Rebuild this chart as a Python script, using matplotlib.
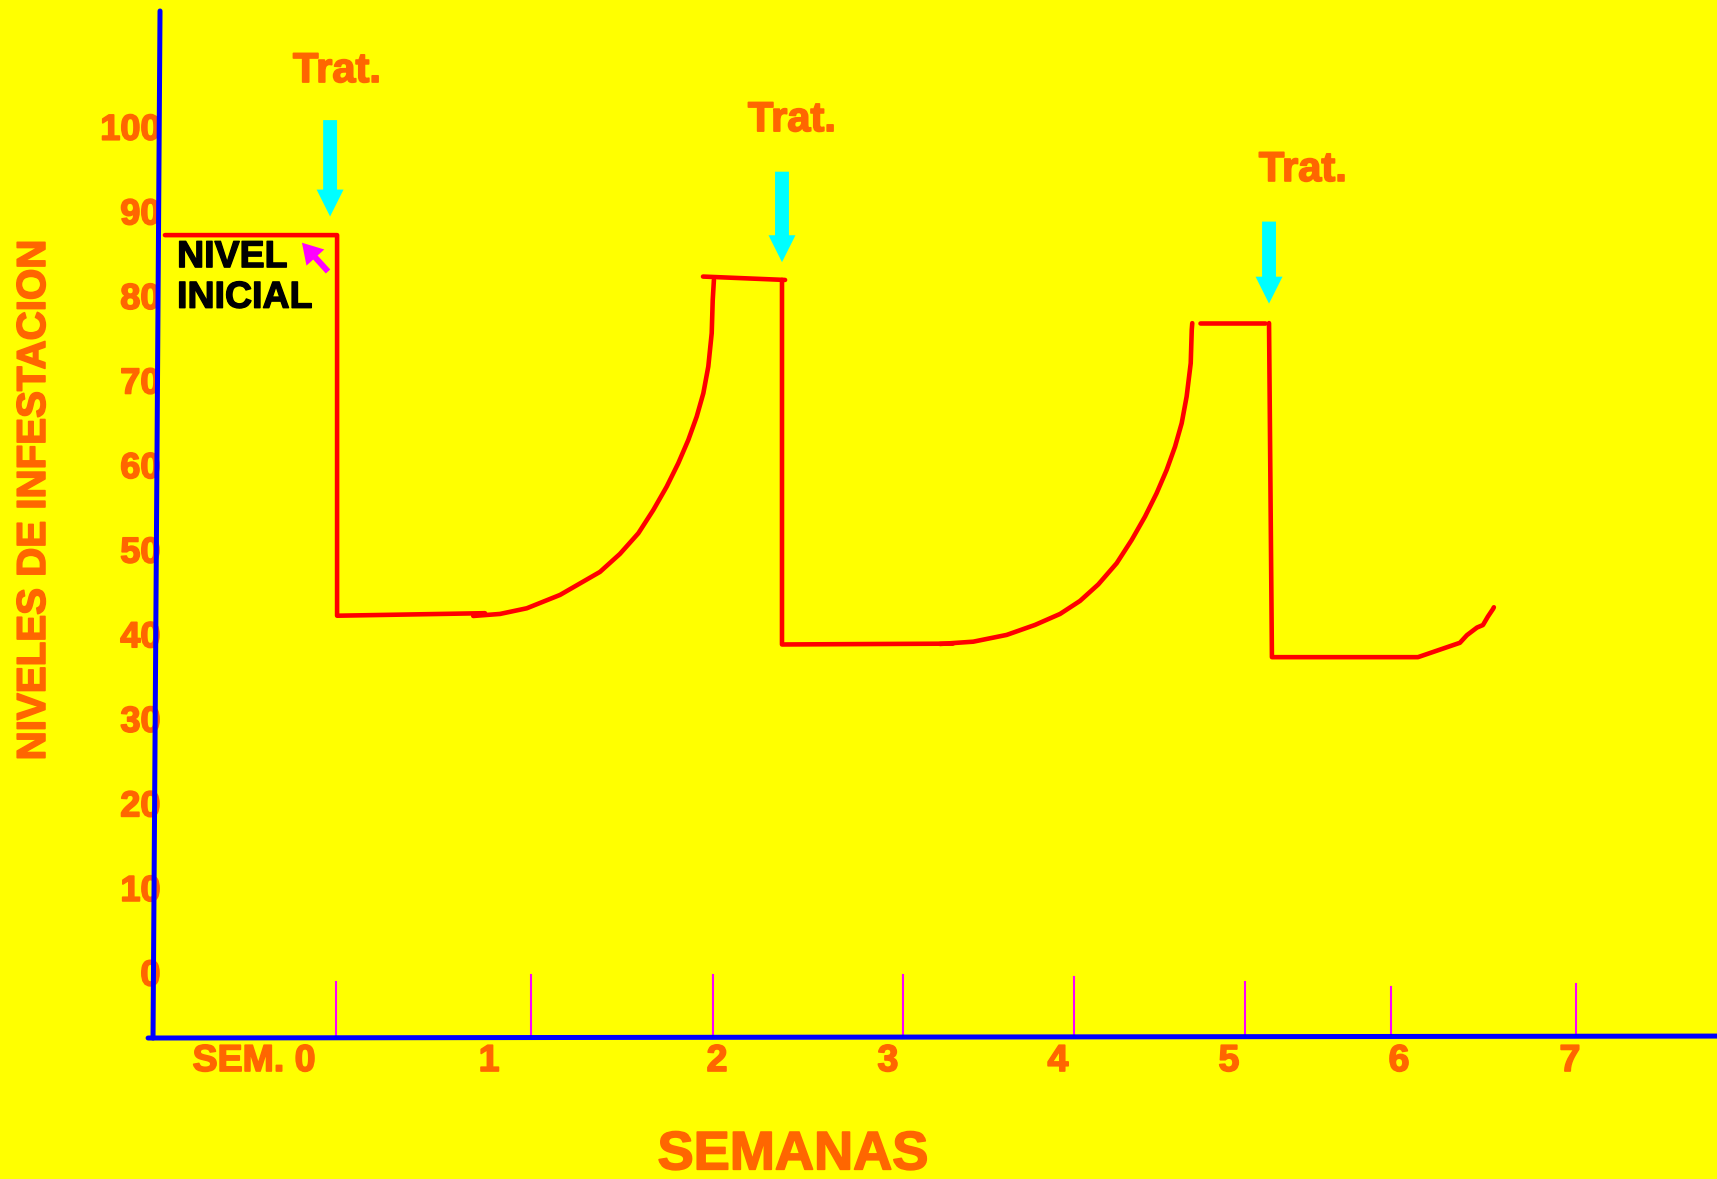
import matplotlib
matplotlib.use("Agg")
import matplotlib.pyplot as plt
import matplotlib.patheffects as pe

plt.rcParams['font.family'] = ['Liberation Sans', 'DejaVu Sans']

# ---------------- data (weeks on x, infestation level on y) ----------------
y_ticks = [0, 10, 20, 30, 40, 50, 60, 70, 80, 90, 100]
x_labels = ["SEM. 0", "1", "2", "3", "4", "5", "6", "7"]
x_label_pos = [-0.714, 0.664, 2.0, 3.002, 3.999, 5.001, 5.998, 7.0]
x_tick_marks = [-0.233, 0.910, 1.977, 3.090, 4.093, 5.095, 5.951, 7.035]
x_tick_tops = [-0.71, 0.12, 0.12, 0.12, -0.12, -0.71, -1.30, -0.95]

initial_x = [-1.236, -0.227, -0.227, 0.640]
initial_y = [87.6, 87.6, 42.6, 42.9]

growth1_x = [0.571, 0.728, 0.885, 1.080, 1.314, 1.431, 1.539, 1.627, 1.705,
             1.773, 1.832, 1.881, 1.920, 1.949, 1.969, 1.975, 1.982]
growth1_y = [42.57, 42.81, 43.48, 45.06, 47.78, 49.91, 52.35, 55.11, 57.86,
             60.63, 63.39, 66.14, 68.91, 72.06, 76.01, 79.94, 82.31]

plateau2_x = [1.918, 2.399]
plateau2_y = [82.7, 82.3]

drop2_x = [2.381, 2.381, 3.383]
drop2_y = [82.3, 39.2, 39.3]

growth2_x = [3.307, 3.502, 3.698, 3.864, 4.011, 4.128, 4.235, 4.343, 4.431,
             4.509, 4.577, 4.636, 4.685, 4.724, 4.753, 4.777, 4.783, 4.786]
growth2_y = [39.26, 39.53, 40.33, 41.51, 42.81, 44.35, 46.30, 48.81, 51.56,
             54.32, 57.08, 59.84, 62.59, 65.36, 68.51, 72.46, 76.40, 77.19]

plateau3_x = [4.831, 5.212]
plateau3_y = [77.2, 77.2]

drop3_x = [5.236, 5.253, 6.109, 6.355, 6.396, 6.455, 6.490, 6.519, 6.549, 6.554]
drop3_y = [77.2, 37.7, 37.7, 39.4, 40.3, 41.2, 41.5, 42.5, 43.4, 43.6]

treat_x = [-0.268, 2.381, 5.236]
treat_arrow_top = [101.2, 95.1, 89.2]
treat_arrow_tip = [89.8, 84.4, 79.5]
treat_label_x = [-0.227, 2.440, 5.435]
treat_label_y = [107.0, 101.2, 95.3]

# ---------------- figure ----------------
YELLOW = "#FFFF00"
ORANGE = "#FF6600"
RED = "#FF0000"
BLUE = "#0000FF"
MAGENTA = "#FF00FF"
CYAN = "#00FFFF"

bold_orange = [pe.withStroke(linewidth=1.2, foreground=ORANGE)]
bold_black = [pe.withStroke(linewidth=1.0, foreground="black")]

fig = plt.figure(figsize=(17.17, 11.79), dpi=100, facecolor=YELLOW)
ax = fig.add_axes([0, 0, 1, 1], facecolor=YELLOW)
ax.set_xlim(-2.203, 7.862)
ax.set_ylim(-24.0, 115.4)
ax.axis("off")

# axes drawn by hand (hand-drawn look)
ax.plot([-1.265, -1.306], [114.1, -7.33], color=BLUE, lw=3.6,
        solid_capstyle="round", zorder=5)
ax.plot([-1.335, 7.862], [-7.33, -7.1], color=BLUE, lw=3.6,
        solid_capstyle="round", zorder=5)

# magenta week marks
for xm, yt in zip(x_tick_marks, x_tick_tops):
    ax.plot([xm, xm], [yt, -7.2], color=MAGENTA, lw=1.5, zorder=3)

# y tick labels
for v in y_ticks:
    ax.text(-1.262, v, str(v), ha="right", va="center", color=ORANGE,
            fontsize=26, fontweight="bold", zorder=4, path_effects=bold_orange)

# x tick labels
for xp, lab in zip(x_label_pos, x_labels):
    ax.text(xp, -10.05, lab, ha="center", va="center", color=ORANGE,
            fontsize=27, fontweight="bold", zorder=4, path_effects=bold_orange)

# axis titles
ax.text(2.445, -21.2, "SEMANAS", ha="center", va="center", color=ORANGE,
        fontsize=39, fontweight="bold", path_effects=bold_orange)
ax.text(-2.004, 56.3, "NIVELES DE INFESTACION", ha="center", va="center",
        rotation=90, color=ORANGE, fontsize=29, fontweight="bold",
        path_effects=bold_orange)

# infestation curve
line_kw = dict(color=RED, lw=3.3, solid_capstyle="round",
               solid_joinstyle="round", zorder=6)
for xs, ys in [(initial_x, initial_y), (growth1_x, growth1_y),
               (plateau2_x, plateau2_y), (drop2_x, drop2_y),
               (growth2_x, growth2_y), (plateau3_x, plateau3_y),
               (drop3_x, drop3_y)]:
    ax.plot(xs, ys, **line_kw)

# treatment arrows and labels
for xa, yt, yb, xl, yl in zip(treat_x, treat_arrow_top, treat_arrow_tip,
                              treat_label_x, treat_label_y):
    ax.annotate("", xy=(xa, yb), xytext=(xa, yt),
                arrowprops=dict(arrowstyle="simple,head_length=1.94,head_width=1.94,tail_width=1.0",
                                mutation_scale=10, color=CYAN, lw=0,
                                shrinkA=0, shrinkB=0), zorder=7)
    ax.text(xl, yl, "Trat.", ha="center", va="center", color=ORANGE,
            fontsize=30, fontweight="bold", path_effects=bold_orange)

# initial level note
ax.text(-1.165, 85.0, "NIVEL", ha="left", va="center", color="black",
        fontsize=27, fontweight="bold", path_effects=bold_black)
ax.text(-1.165, 80.2, "INICIAL", ha="left", va="center", color="black",
        fontsize=27, fontweight="bold", path_effects=bold_black)
ax.annotate("", xy=(-0.433, 86.7), xytext=(-0.280, 83.3),
            arrowprops=dict(arrowstyle="simple,head_length=1.44,head_width=1.73,tail_width=0.43",
                            mutation_scale=10, color=MAGENTA, lw=0,
                            shrinkA=0, shrinkB=0), zorder=7)

fig.savefig("out.png", dpi=100, facecolor=YELLOW)
